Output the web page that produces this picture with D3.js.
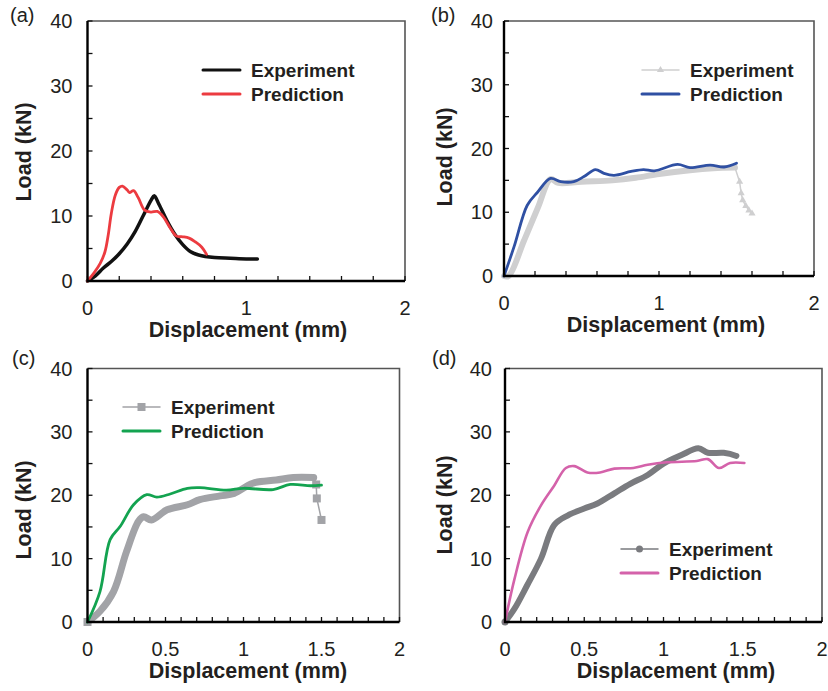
<!DOCTYPE html>
<html>
<head>
<meta charset="utf-8">
<script src="https://cdn.jsdelivr.net/npm/d3@7"></script>
<style>
  body { margin: 0; background: #fff; }
  text { font-family: "Liberation Sans", Arial, Helvetica, sans-serif; fill: #231f20; }
</style>
</head>
<body>
<div id="chart"></div>
<script>
// load-displacement curves, [displacement mm, load kN]
var expA = [[0, 0], [0.05, 0.8], [0.1, 2.0], [0.15, 3.0], [0.2, 4.2], [0.25, 5.7], [0.3, 7.6], [0.35, 10.0], [0.4, 12.4], [0.42, 13.1], [0.45, 11.8], [0.5, 9.3], [0.55, 7.2], [0.6, 5.6], [0.65, 4.5], [0.7, 4.0], [0.8, 3.6], [0.9, 3.5], [1.0, 3.4], [1.07, 3.4]]
var predA = [[0, 0], [0.04, 1.2], [0.08, 2.7], [0.11, 4.5], [0.13, 7.0], [0.15, 10.4], [0.175, 13.2], [0.2, 14.4], [0.22, 14.6], [0.25, 14.0], [0.265, 13.6], [0.29, 13.9], [0.32, 12.8], [0.36, 10.9], [0.4, 10.6], [0.44, 10.7], [0.48, 9.8], [0.52, 8.2], [0.56, 6.9], [0.6, 6.8], [0.64, 6.6], [0.68, 6.0], [0.72, 5.2], [0.75, 4.1]]

var expB = [[0, 0], [0.03, 0], [0.13, 5.6], [0.22, 10.8], [0.3, 15.2], [0.35, 14.6], [0.5, 14.8], [0.7, 15.0], [0.85, 15.4], [1.0, 16.0], [1.2, 16.6], [1.35, 16.9], [1.49, 17.0]]
var expBDrop = [[1.49, 17.0], [1.52, 14.8], [1.53, 13.0], [1.54, 11.9], [1.56, 11.0], [1.58, 10.3], [1.6, 9.8]]
var predB = [[0, 0], [0.065, 4.6], [0.15, 11.1], [0.215, 13.1], [0.3, 15.3], [0.366, 14.8], [0.45, 14.8], [0.516, 15.6], [0.59, 16.7], [0.645, 16.1], [0.71, 15.8], [0.82, 16.4], [0.9, 16.7], [0.97, 16.5], [1.12, 17.5], [1.2, 17.0], [1.33, 17.4], [1.42, 17.1], [1.5, 17.7]]

var expC = [[0, 0], [0.08, 1.7], [0.167, 4.8], [0.25, 11.1], [0.327, 15.9], [0.36, 16.6], [0.41, 16.1], [0.51, 17.7], [0.64, 18.5], [0.72, 19.3], [0.85, 19.9], [0.94, 20.3], [1.06, 21.9], [1.21, 22.4], [1.32, 22.8], [1.45, 22.8]]
var expCDrop = [[1.45, 22.8], [1.466, 21.7], [1.47, 19.5], [1.5, 16.1]]
var predC = [[0, 0], [0.08, 4.8], [0.145, 13.0], [0.21, 15.1], [0.295, 18.5], [0.38, 20.1], [0.444, 19.7], [0.53, 20.2], [0.64, 21.1], [0.72, 21.2], [0.89, 20.8], [1.0, 21.1], [1.19, 20.9], [1.3, 21.7], [1.43, 21.5], [1.5, 21.6]]

var expD = [[0, 0], [0.06, 2.1], [0.14, 5.8], [0.227, 10.0], [0.31, 15.3], [0.395, 16.8], [0.5, 17.9], [0.583, 18.7], [0.69, 20.3], [0.79, 21.8], [0.9, 23.2], [1.0, 25.0], [1.11, 26.3], [1.22, 27.4], [1.28, 26.7], [1.38, 26.7], [1.46, 26.2]]
var predD = [[0, 0], [0.06, 6.8], [0.143, 14.2], [0.227, 18.4], [0.31, 21.5], [0.384, 24.3], [0.437, 24.6], [0.52, 23.6], [0.6, 23.6], [0.69, 24.2], [0.81, 24.3], [0.9, 24.8], [1.02, 25.2], [1.21, 25.4], [1.28, 25.7], [1.35, 24.3], [1.42, 25.1], [1.51, 25.1]]

var yTicks = [0, 10, 20, 30, 40]
var xTicksWide = [0, 1, 2]
var xTicksFine = [0, 0.5, 1, 1.5, 2]
var seriesNames = ['Experiment', 'Prediction']

var svg = d3.select('#chart').append('svg').attr('width', 828).attr('height', 691)

// one entry per panel: frame position, ticks, colours, legend place
var panels = [
  { tag: '(a)', l: 87.5, r: 405, t: 21, b: 281, xt: xTicksWide, minor: 0.2, tagX: 10, tagY: 15, labX: 248, ylabY: 152, tickGap: 15, ylabGap: 65,
    exp: expA, drop: null, pred: predA, expColor: '#111', expW: 3.5, predColor: '#ec3b40', predW: 2.8, marker: 'none',
    legX: 203, legY: 70 },
  { tag: '(b)', l: 504, r: 814, t: 21, b: 276, xt: xTicksWide, minor: 0.2, tagX: 431, tagY: 15, labX: 666, ylabY: 157, tickGap: 11, ylabGap: 60,
    exp: expB, drop: expBDrop, pred: predB, expColor: '#cfcfd0', expW: 6, predColor: '#2f50a3', predW: 2.8, marker: 'triangle',
    legX: 642, legY: 70 },
  { tag: '(c)', l: 87.5, r: 399.5, t: 368.5, b: 622, xt: xTicksFine, minor: 0.1, tagX: 12, tagY: 358, labX: 248, ylabY: 510, tickGap: 15, ylabGap: 65,
    exp: expC, drop: expCDrop, pred: predC, expColor: '#a2a3a7', expW: 7, predColor: '#13a350', predW: 2.8, marker: 'square',
    legX: 123, legY: 407 },
  { tag: '(d)', l: 505, r: 822, t: 368.5, b: 622, xt: xTicksFine, minor: 0.1, tagX: 432, tagY: 358, labX: 676, ylabY: 505, tickGap: 13, ylabGap: 61,
    exp: expD, drop: null, pred: predD, expColor: '#7a7b7f', expW: 6, predColor: '#d462aa', predW: 2.6, marker: 'circle',
    legX: 621, legY: 549 }
]

function drawMarker(g, kind, x, y, color) {
  if (kind == 'square') {
    g.append('rect').attr('x', x - 4).attr('y', y - 4).attr('width', 8).attr('height', 8).attr('fill', color)
  } else if (kind == 'circle') {
    g.append('circle').attr('cx', x).attr('cy', y).attr('r', 3.5).attr('fill', color)
  } else if (kind == 'triangle') {
    g.append('path').attr('d', d3.symbol(d3.symbolTriangle, 22)()).attr('transform', 'translate(' + x + ',' + y + ')').attr('fill', color)
  }
}

panels.forEach(function (p) {
  var g = svg.append('g')
  var x = d3.scaleLinear().domain([0, 2]).range([p.l, p.r])
  var y = d3.scaleLinear().domain([0, 40]).range([p.b, p.t])
  var line = d3.line().x(d => x(d[0])).y(d => y(d[1])).curve(d3.curveCatmullRom.alpha(0.5))

  // top and right frame, lighter
  g.append('path').attr('d', 'M' + p.l + ',' + p.t + 'H' + p.r + 'V' + p.b)
    .attr('fill', 'none').attr('stroke', '#555').attr('stroke-width', 1.6)

  // inside minor ticks
  var xMinor = d3.range(0, 2 + 1e-9, p.minor)
  g.selectAll('.xm').data(xMinor).enter().append('line')
    .attr('x1', d => x(d)).attr('x2', d => x(d)).attr('y1', p.b).attr('y2', p.b - 5)
    .attr('stroke', '#111').attr('stroke-width', 1.3)
  g.selectAll('.ym').data(d3.range(0, 41, 5)).enter().append('line')
    .attr('x1', p.l).attr('x2', p.l + 5).attr('y1', d => y(d)).attr('y2', d => y(d))
    .attr('stroke', '#111').attr('stroke-width', 1.3)

  // experiment curve
  g.append('path').datum(p.exp).attr('d', line)
    .attr('fill', 'none').attr('stroke', p.expColor).attr('stroke-width', p.expW)
    .attr('stroke-linejoin', 'round').attr('stroke-linecap', 'round')
  if (p.marker == 'square' || p.marker == 'circle') {
    drawMarker(g, p.marker, x(p.exp[0][0]), y(p.exp[0][1]), p.expColor)
  }
  if (p.drop) {
    g.append('path').datum(p.drop).attr('d', d3.line().x(d => x(d[0])).y(d => y(d[1])))
      .attr('fill', 'none').attr('stroke', p.expColor).attr('stroke-width', 1.5)
    p.drop.slice(1).forEach(function (d) { drawMarker(g, p.marker, x(d[0]), y(d[1]), p.expColor) })
  }
  // prediction curve
  g.append('path').datum(p.pred).attr('d', line)
    .attr('fill', 'none').attr('stroke', p.predColor).attr('stroke-width', p.predW)
    .attr('stroke-linejoin', 'round').attr('stroke-linecap', 'round')

  // left and bottom axes, heavy
  g.append('path').attr('d', 'M' + p.l + ',' + p.t + 'V' + p.b + 'H' + p.r)
    .attr('fill', 'none').attr('stroke', '#000').attr('stroke-width', 2.4)

  // tick labels
  g.selectAll('.xl').data(p.xt).enter().append('text')
    .attr('x', d => x(d)).attr('y', p.b + 34).attr('text-anchor', 'middle')
    .attr('font-size', 20).text(d => d)
  g.selectAll('.yl').data(yTicks).enter().append('text')
    .attr('x', p.l - p.tickGap).attr('y', d => y(d) + 7).attr('text-anchor', 'end')
    .attr('font-size', 20).text(d => d)

  // axis titles
  g.append('text').attr('x', p.labX).attr('y', p.b + 56).attr('text-anchor', 'middle')
    .attr('font-size', 21.5).attr('font-weight', 'bold').text('Displacement (mm)')
  g.append('text').attr('transform', 'translate(' + (p.l - p.ylabGap + 8) + ',' + p.ylabY + ') rotate(-90)')
    .attr('text-anchor', 'middle').attr('font-size', 21.5).attr('font-weight', 'bold').text('Load (kN)')

  // panel tag
  g.append('text').attr('x', p.tagX).attr('y', p.tagY + 7).attr('font-size', 20).text(p.tag)

  // legend
  seriesNames.forEach(function (name, i) {
    var ly = p.legY + i * 24
    if (i == 0) {
      var w = p.marker == 'none' ? 3 : 1.5
      g.append('line').attr('x1', p.legX).attr('x2', p.legX + 37).attr('y1', ly).attr('y2', ly)
        .attr('stroke', p.expColor).attr('stroke-width', w).attr('stroke-linecap', 'round')
      drawMarker(g, p.marker, p.legX + 18.5, ly, p.expColor)
    } else {
      g.append('line').attr('x1', p.legX).attr('x2', p.legX + 37).attr('y1', ly).attr('y2', ly)
        .attr('stroke', p.predColor).attr('stroke-width', 3).attr('stroke-linecap', 'round')
    }
    g.append('text').attr('x', p.legX + 48).attr('y', ly + 7).attr('font-size', 19)
      .attr('font-weight', 'bold').text(name)
  })
})
</script>
</body>
</html>
